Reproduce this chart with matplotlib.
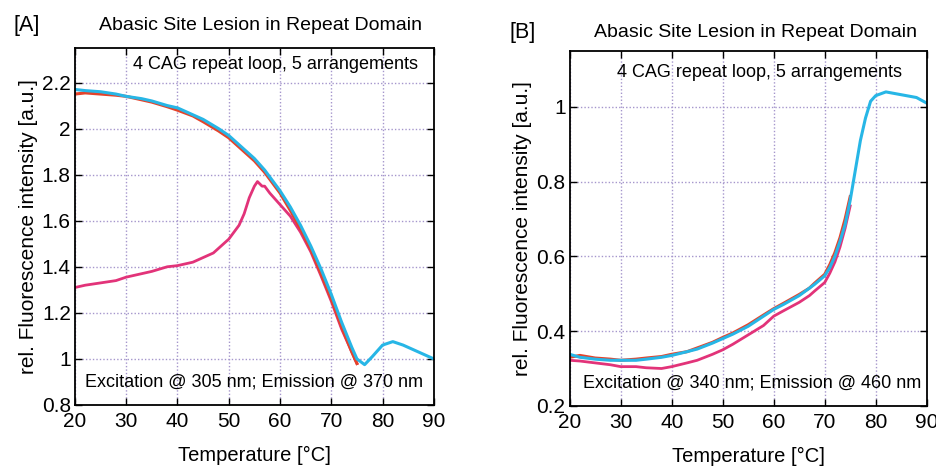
import numpy as np
import matplotlib
matplotlib.use("Agg")
import matplotlib.pyplot as plt

plt.rcParams['font.family'] = ['Liberation Sans', 'DejaVu Sans']

# ---- panel A: excitation 305 nm / emission 370 nm ----
a_cyan_t = [20, 22, 25, 28, 30, 33, 35, 38, 40, 43, 45, 48, 50, 52, 55, 57, 60, 62, 64, 66,
            68, 70, 72, 74, 75, 76.5, 78, 80, 82, 84, 86, 88, 90]
a_cyan_v = [2.17, 2.165, 2.16, 2.15, 2.14, 2.13, 2.12, 2.10, 2.09, 2.06, 2.04, 2.0, 1.97, 1.93, 1.87,
            1.82, 1.73, 1.66, 1.58, 1.49, 1.39, 1.28, 1.16, 1.05, 1.0, 0.975, 1.01, 1.06, 1.075,
            1.06, 1.04, 1.02, 1.0]
a_red_t = [20, 22, 25, 28, 30, 33, 35, 38, 40, 43, 45, 48, 50, 52, 55, 57, 60, 62, 64, 66,
           68, 70, 72, 74, 75]
a_red_v = [2.15, 2.155, 2.15, 2.145, 2.14, 2.125, 2.115, 2.095, 2.08, 2.055, 2.03, 1.99, 1.96,
           1.92, 1.86, 1.81, 1.72, 1.645, 1.565, 1.475, 1.37, 1.26, 1.14, 1.03, 0.98]
a_mag_t = [20, 22, 25, 28, 30, 33, 35, 38, 40, 43, 45, 47, 48, 50, 51, 52, 53, 54, 55, 55.6,
           56.5, 57, 58, 60, 62, 64, 66, 68, 70, 72, 74, 75]
a_mag_v = [1.31, 1.32, 1.33, 1.34, 1.355, 1.37, 1.38, 1.40, 1.405, 1.42, 1.44, 1.46, 1.48, 1.52,
           1.55, 1.58, 1.63, 1.70, 1.75, 1.77, 1.75, 1.75, 1.72, 1.67, 1.62, 1.55, 1.465, 1.36,
           1.25, 1.13, 1.03, 0.98]

# ---- panel B: excitation 340 nm / emission 460 nm ----
b_cyan_t = [20, 22, 25, 28, 30, 33, 35, 38, 40, 43, 45, 48, 50, 52, 55, 58, 60, 62, 65, 67,
            68, 70, 71, 72, 73, 74, 75, 76, 77, 78, 79, 80, 82, 84, 86, 88, 90]
b_cyan_v = [0.338, 0.33, 0.325, 0.322, 0.322, 0.322, 0.325, 0.33, 0.335, 0.345, 0.352, 0.368,
            0.38, 0.392, 0.413, 0.44, 0.458, 0.472, 0.495, 0.515, 0.525, 0.548, 0.57, 0.6,
            0.64, 0.685, 0.75, 0.83, 0.91, 0.97, 1.015, 1.03, 1.04, 1.035, 1.03, 1.025, 1.01]
b_red_t = [20, 22, 25, 28, 30, 33, 35, 38, 40, 43, 45, 48, 50, 52, 55, 58, 60, 62, 65, 67,
           68, 70, 71, 72, 73, 74, 75]
b_red_v = [0.33, 0.335, 0.328, 0.325, 0.322, 0.325, 0.328, 0.332, 0.338, 0.345, 0.355, 0.37,
           0.383, 0.395, 0.417, 0.443, 0.46, 0.475, 0.498, 0.515, 0.528, 0.552, 0.578, 0.61,
           0.65, 0.7, 0.76]
b_mag_t = [20, 22, 25, 28, 30, 33, 35, 38, 40, 43, 45, 48, 50, 52, 55, 58, 60, 62, 65, 67,
           68, 70, 71, 72, 73, 74, 75]
b_mag_v = [0.322, 0.32, 0.315, 0.31, 0.305, 0.305, 0.302, 0.3, 0.305, 0.315, 0.322, 0.338,
           0.35, 0.365, 0.39, 0.415, 0.44, 0.455, 0.477, 0.495, 0.507, 0.53, 0.555, 0.585,
           0.625, 0.675, 0.735]

red = '#e5432a'
cyan = '#27b6e6'
mag = '#e23379'
grid_col = '#a596cc'

fig = plt.figure(figsize=(9.37, 4.66), dpi=100)
axA = fig.add_axes([0.080, 0.131, 0.383, 0.766])
axB = fig.add_axes([0.608, 0.129, 0.381, 0.762])


def style(ax, ylim, yticks):
    ax.set_xlim(20, 90)
    ax.set_ylim(*ylim)
    ax.set_xticks(range(20, 91, 10))
    ax.set_yticks(yticks)
    ax.set_yticklabels([f'{v:g}' for v in yticks])
    ax.grid(True, color=grid_col, linestyle=(0, (1, 1.5)), linewidth=1.0)
    ax.tick_params(direction='in', top=True, right=True, length=5, width=1,
                   labelsize=15, pad=3)
    ax.tick_params(axis='x', pad=5)
    for s in ax.spines.values():
        s.set_linewidth(1.3)
    ax.set_xlabel('Temperature [°C]', fontsize=14.5, labelpad=11)
    ax.set_ylabel('rel. Fluorescence intensity [a.u.]', fontsize=15, labelpad=3)


axA.plot(a_mag_t, a_mag_v, color=mag, lw=2.0)
axA.plot(a_red_t, a_red_v, color=red, lw=2.2)
axA.plot(a_cyan_t, a_cyan_v, color=cyan, lw=2.2)
style(axA, (0.8, 2.35), [0.8, 1, 1.2, 1.4, 1.6, 1.8, 2, 2.2])
axA.text(0.955, 0.955, '4 CAG repeat loop, 5 arrangements', transform=axA.transAxes,
         ha='right', va='center', fontsize=13)
axA.text(0.5, 0.065, 'Excitation @ 305 nm; Emission @ 370 nm', transform=axA.transAxes,
         ha='center', va='center', fontsize=13)
fig.text(0.014, 0.945, '[A]', fontsize=15.5, ha='left', va='center')
fig.text(0.278, 0.945, 'Abasic Site Lesion in Repeat Domain', fontsize=14,
         ha='center', va='center')

axB.plot(b_mag_t, b_mag_v, color=mag, lw=2.0)
axB.plot(b_red_t, b_red_v, color=red, lw=2.2)
axB.plot(b_cyan_t, b_cyan_v, color=cyan, lw=2.2)
style(axB, (0.2, 1.15), [0.2, 0.4, 0.6, 0.8, 1])
axB.text(0.93, 0.94, '4 CAG repeat loop, 5 arrangements', transform=axB.transAxes,
         ha='right', va='center', fontsize=13)
axB.text(0.51, 0.065, 'Excitation @ 340 nm; Emission @ 460 nm', transform=axB.transAxes,
         ha='center', va='center', fontsize=13)
fig.text(0.544, 0.93, '[B]', fontsize=15.5, ha='left', va='center')
fig.text(0.806, 0.93, 'Abasic Site Lesion in Repeat Domain', fontsize=14,
         ha='center', va='center')

fig.savefig('out.png', dpi=100)
